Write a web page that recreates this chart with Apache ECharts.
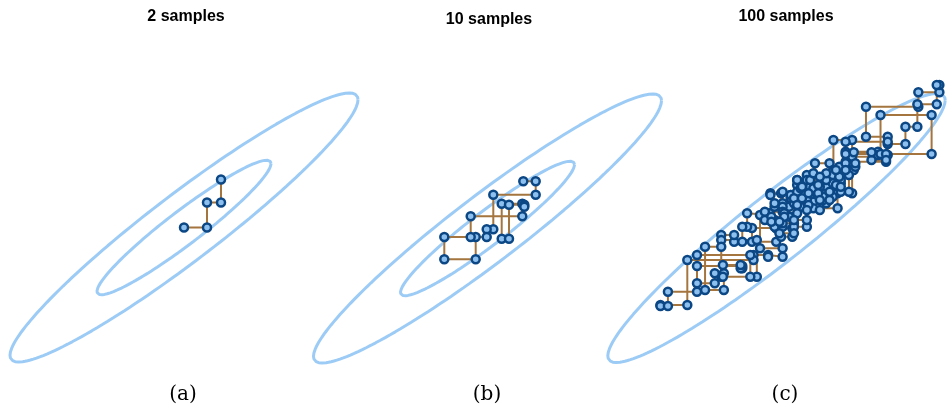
<!DOCTYPE html>
<html>
<head>
<meta charset="utf-8">
<script src="https://cdn.jsdelivr.net/npm/echarts@6/dist/echarts.min.js"></script>
<style>
  html, body { margin: 0; padding: 0; background: #ffffff; }
  #chart { width: 951px; height: 410px; }
</style>
</head>
<body>
<div id="chart"></div>
<script>
// Panel headings and captions
const panelTitles = ['2 samples', '10 samples', '100 samples'];
const panelLabels = ['(a)', '(b)', '(c)'];

// Target Gaussian (mean, per-axis spread, correlation)
const gaussMean = [0, 0];
const sigmaX = 8.7;
const sigmaY = 6.725;
const rho = 0.95;
// Mahalanobis radii of the contours drawn in each panel
const contourLevelsA = [1, 2];
const contourLevelsB = [1, 2];
const contourLevelsC = [2];

// Gibbs chains: x-draws and y-draws (element 0 is the initial state)
const drawsAX = [0.0, 2.3, 3.7];
const drawsAY = [0.0, 2.5, 4.8];

const drawsBX = [3.58, 4.82, 0.58, -0.08, -1.18, -4.32, -1.68, 3.48, 1.42, 2.15, 3.68];
const drawsBY = [4.72, 3.38, -0.08, -0.85, -3.08, -0.85, 1.22, 2.48, -1.02, 2.38, 2.18];

const drawsCX = [
  0.0, -2.53, -4.37, -5.7, -2.03, -5.7, -7.37, -5.43, -6.37, -8.2,
  -2.37, -9.2, -11.97, -11.2, -8.2, -3.53, -3.7, -5.53, -2.7, -0.87,
  0.63, -1.7, -0.7, -3.03, -3.53, -0.03, 1.63, 0.47, -0.63, 1.47,
  3.13, 3.97, 5.47, 3.13, 2.13, 5.13, 3.47, 1.47, 2.8, 3.8,
  6.3, 7.8, 5.87, 7.8, 11.3, 7.13, 10.47, 11.47, 9.23, 14.63,
  16.8, 16.53, 14.53, 13.3, 11.47, 7.13, 10.73, 16.0, 11.3, 9.8,
  7.97, 6.8, 5.8, 7.47, 5.13, 3.47, 2.13, 0.63, 1.8, 1.3,
  -0.2, 0.63, 1.8, 3.13, 4.8, 5.8, 6.63, 5.13, 3.8, 2.47,
  0.63, -1.2, -0.2, 1.8, 2.63, 4.47, 6.47, 8.13, 7.13, 6.13,
  4.3, 3.3, 2.13, 0.8, -0.53, 0.3, 1.8, 3.13, 4.47, 5.47,
  6.63
];
const drawsCY = [
  0.0, -1.37, -0.7, -1.2, -4.87, -1.87, -6.2, -4.53, -5.53, -2.7,
  -3.2, -7.7, -7.8, -6.37, -3.8, -4.03, -3.7, -4.87, -2.7, -2.87,
  -2.03, 1.3, 1.47, 0.13, -1.37, -0.03, -0.87, 3.47, 3.3, 3.13,
  3.63, 6.47, 5.3, 4.8, 4.3, 2.47, 2.97, 3.3, 2.63, 1.97,
  3.47, 5.8, 8.8, 7.13, 6.63, 7.63, 7.3, 9.13, 12.13, 13.57,
  14.3, 12.37, 10.13, 8.4, 8.63, 7.4, 11.3, 7.4, 6.8, 7.57,
  5.8, 5.63, 5.3, 3.63, 4.13, 4.8, 3.63, 2.47, 1.13, 2.13,
  0.13, 0.47, 0.13, 2.8, 3.13, 4.47, 4.8, 5.47, 3.97, 2.13,
  1.63, 0.8, 2.47, 2.97, 4.13, 5.13, 6.13, 6.47, 5.8, 4.3,
  3.47, 2.3, 1.47, 1.13, 0.63, -0.53, 0.8, 1.8, 2.8, 3.63,
  4.13
];

// ---- layout ----
const PX_PER_UNIT = 10;          // same scale on both axes
const HALF_X = 18, HALF_Y = 15;  // visible half-range in data units
const panelCenters = [[184, 227.5], [487.5, 228.5], [782, 228]];
const titlePos = [[186, 17], [489, 20], [786, 17]];
const labelPos = [[183, 395], [487, 395], [785, 395]];

const COLORS = {
  contour: '#9ccbf6',
  path: '#a5753f',
  pointFill: '#8dc0ee',
  pointEdge: '#0c4785'
};

// Level set of the Gaussian at Mahalanobis radius r (Cholesky parameterisation)
function contour(r) {
  const pts = [];
  const s = Math.sqrt(1 - rho * rho);
  for (let deg = 0; deg <= 360; deg += 2) {
    const t = deg * Math.PI / 180;
    const c = Math.cos(t), sn = Math.sin(t);
    pts.push([gaussMean[0] + r * sigmaX * c,
              gaussMean[1] + r * sigmaY * (rho * c + s * sn)]);
  }
  return pts;
}

// Expand the alternating x / y updates into the visited states
function chainPoints(xs, ys) {
  const pts = [[xs[0], ys[0]]];
  for (let k = 1; k < xs.length; k++) {
    pts.push([xs[k], ys[k - 1]]);
    pts.push([xs[k], ys[k]]);
  }
  return pts;
}

const panels = [
  { levels: contourLevelsA, xs: drawsAX, ys: drawsAY },
  { levels: contourLevelsB, xs: drawsBX, ys: drawsBY },
  { levels: contourLevelsC, xs: drawsCX, ys: drawsCY }
];

const grids = [], xAxes = [], yAxes = [], series = [], graphics = [];

panels.forEach((p, i) => {
  const [cx, cy] = panelCenters[i];
  grids.push({
    left: cx - HALF_X * PX_PER_UNIT,
    top: cy - HALF_Y * PX_PER_UNIT,
    width: 2 * HALF_X * PX_PER_UNIT,
    height: 2 * HALF_Y * PX_PER_UNIT,
    containLabel: false
  });
  xAxes.push({ type: 'value', gridIndex: i, min: -HALF_X, max: HALF_X, show: false });
  yAxes.push({ type: 'value', gridIndex: i, min: -HALF_Y, max: HALF_Y, show: false });

  p.levels.forEach(r => {
    series.push({
      type: 'line',
      xAxisIndex: i, yAxisIndex: i,
      data: contour(r),
      showSymbol: false,
      clip: false,
      silent: true,
      lineStyle: { color: COLORS.contour, width: 3 },
      z: 1
    });
  });

  series.push({
    type: 'line',
    xAxisIndex: i, yAxisIndex: i,
    data: chainPoints(p.xs, p.ys),
    symbol: 'circle',
    symbolSize: 8,
    showAllSymbol: true,
    clip: false,
    silent: true,
    lineStyle: { color: COLORS.path, width: 2 },
    itemStyle: { color: COLORS.pointFill, borderColor: COLORS.pointEdge, borderWidth: 2.5 },
    z: 2
  });

  graphics.push({
    type: 'text', x: titlePos[i][0], y: titlePos[i][1], silent: true,
    style: {
      text: panelTitles[i], align: 'center', verticalAlign: 'middle',
      font: 'bold 16px "Liberation Sans Narrow", "Liberation Sans", Arial, sans-serif', fill: '#000'
    }
  });
  graphics.push({
    type: 'text', x: labelPos[i][0], y: labelPos[i][1], silent: true,
    style: {
      text: panelLabels[i], align: 'center', verticalAlign: 'middle',
      font: '20px "DejaVu Serif", "Liberation Serif", serif', fill: '#000'
    }
  });
});

const chart = echarts.init(document.getElementById('chart'), null, { renderer: 'canvas' });
chart.setOption({
  animation: false,
  backgroundColor: '#ffffff',
  grid: grids,
  xAxis: xAxes,
  yAxis: yAxes,
  series: series,
  graphic: graphics
});
</script>
</body>
</html>
